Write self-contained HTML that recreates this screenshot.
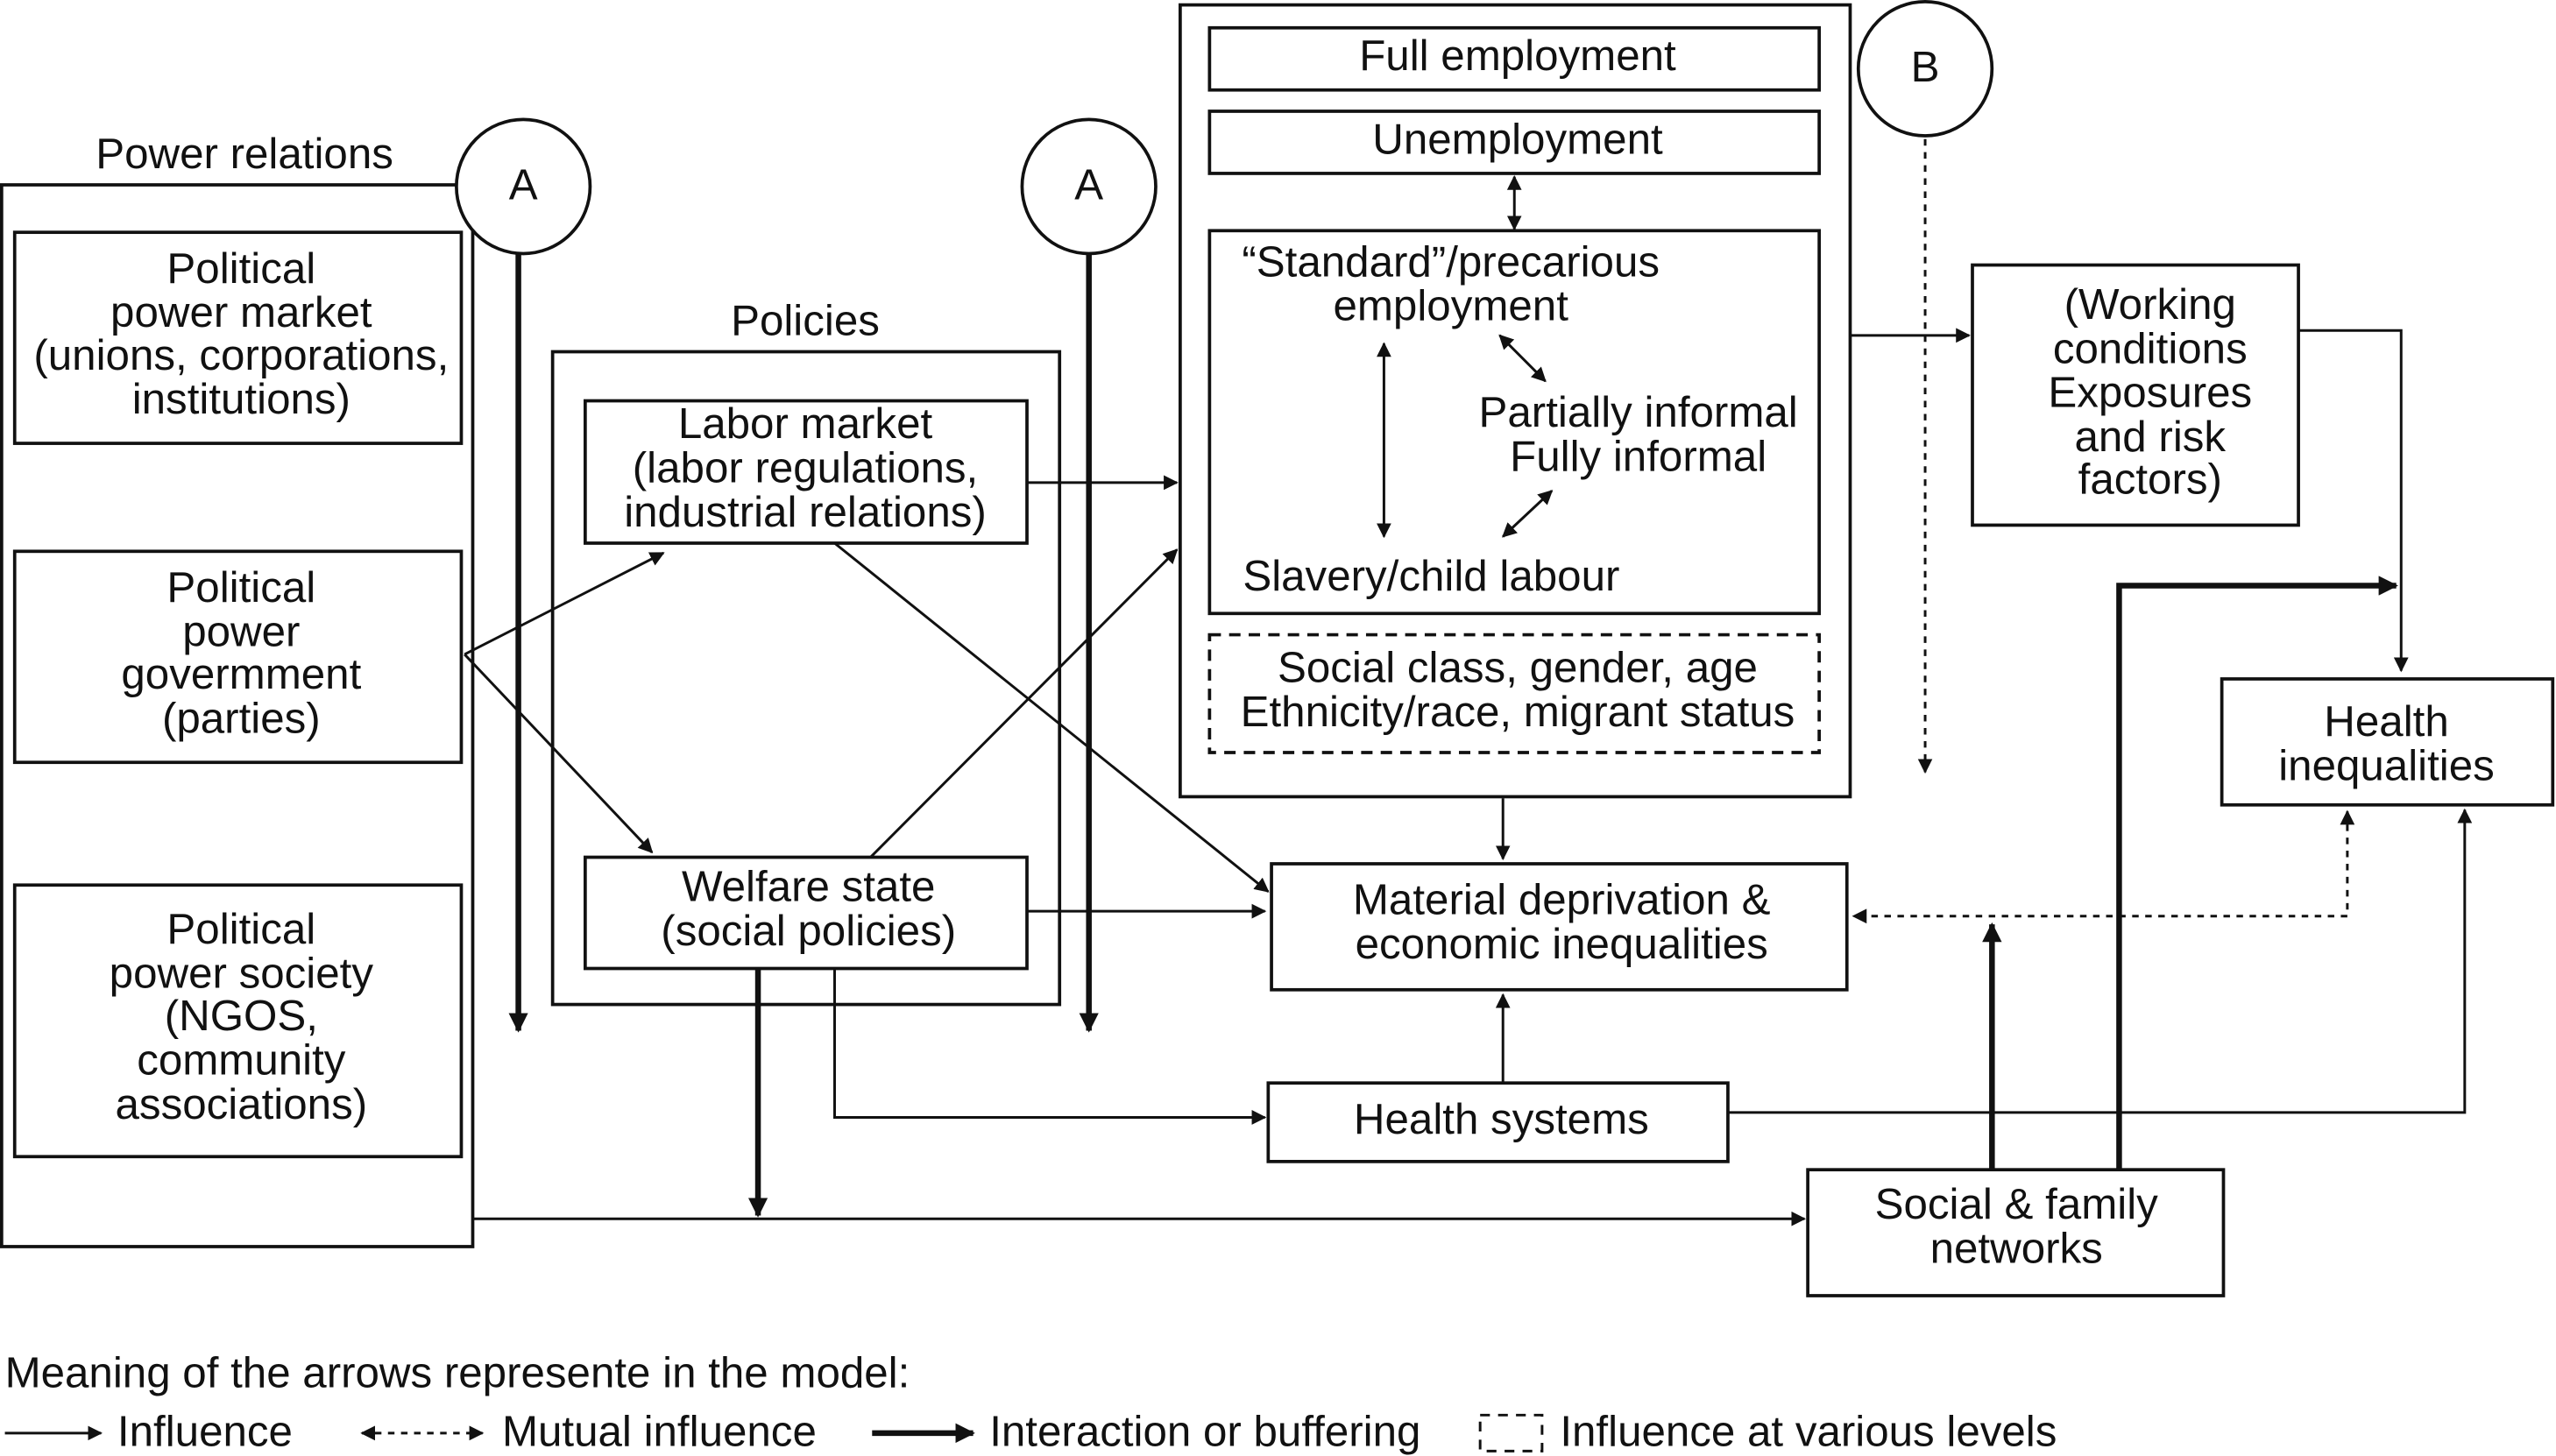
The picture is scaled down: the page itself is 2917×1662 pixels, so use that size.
<!DOCTYPE html>
<html><head><meta charset="utf-8"><style>
html,body{margin:0;padding:0;background:#fff;}
svg{display:block;}
text{font-family:"Liberation Sans",Arial,sans-serif;font-size:26.5px;fill:#111;}
</style></head><body>
<svg width="2917" height="1662" viewBox="0 0 1568 890" preserveAspectRatio="none" xmlns="http://www.w3.org/2000/svg">
<defs>
<marker id="a" viewBox="0 0 10 10" refX="9" refY="5" markerWidth="9" markerHeight="9" markerUnits="userSpaceOnUse" orient="auto-start-reverse"><path d="M0,0 L10,5 L0,10 z" fill="#111"/></marker>
<marker id="b" viewBox="0 0 10 10" refX="9" refY="5" markerWidth="12" markerHeight="12" markerUnits="userSpaceOnUse" orient="auto-start-reverse"><path d="M0,0 L10,5 L0,10 z" fill="#111"/></marker>
</defs>
<g fill="none" stroke="#111" stroke-width="2">
<rect x="1" y="113" width="289" height="649"/>
<rect x="9" y="142" width="274" height="129"/>
<rect x="9" y="337" width="274" height="129"/>
<rect x="9" y="541" width="274" height="166"/>
<rect x="339" y="215" width="311" height="399"/>
<rect x="359" y="245" width="271" height="87"/>
<rect x="359" y="524" width="271" height="68"/>
<rect x="724" y="3" width="411" height="484"/>
<rect x="742" y="17" width="374" height="38"/>
<rect x="742" y="68" width="374" height="38"/>
<rect x="742" y="141" width="374" height="234"/>
<rect x="742" y="388" width="374" height="72" stroke-dasharray="7,5"/>
<rect x="1210" y="162" width="200" height="159"/>
<rect x="1363" y="415" width="203" height="77"/>
<rect x="780" y="528" width="353" height="77"/>
<rect x="778" y="662" width="282" height="48"/>
<rect x="1109" y="715" width="255" height="77"/>
<circle cx="321" cy="114" r="41" fill="#fff"/>
<circle cx="668" cy="114" r="41" fill="#fff"/>
<circle cx="1181" cy="42" r="41" fill="#fff"/>
</g>
<g fill="none" stroke="#111" stroke-width="1.6">
<line x1="929" y1="108" x2="929" y2="140" marker-start="url(#a)" marker-end="url(#a)"/>
<line x1="849" y1="210" x2="849" y2="328" marker-start="url(#a)" marker-end="url(#a)"/>
<line x1="920" y1="205" x2="948" y2="233" marker-start="url(#a)" marker-end="url(#a)"/>
<line x1="922" y1="328" x2="952" y2="300" marker-start="url(#a)" marker-end="url(#a)"/>
<line x1="1181" y1="85" x2="1181" y2="472" stroke-dasharray="4,4" marker-end="url(#a)"/>
<line x1="1135" y1="205" x2="1208" y2="205" marker-end="url(#a)"/>
<polyline points="1410,202 1473,202 1473,410" marker-end="url(#a)"/>
<line x1="922" y1="488" x2="922" y2="525" marker-end="url(#a)"/>
<line x1="922" y1="662" x2="922" y2="608" marker-end="url(#a)"/>
<polyline points="1060,680 1512,680 1512,495" marker-end="url(#a)"/>
<polyline points="1440,496 1440,560 1137,560" stroke-dasharray="4,4" marker-start="url(#a)" marker-end="url(#a)"/>
<line x1="630" y1="295" x2="722" y2="295" marker-end="url(#a)"/>
<line x1="534" y1="524" x2="722" y2="336" marker-end="url(#a)"/>
<line x1="512" y1="332" x2="778" y2="545" marker-end="url(#a)"/>
<line x1="630" y1="557" x2="776" y2="557" marker-end="url(#a)"/>
<line x1="285" y1="400" x2="407" y2="338" marker-end="url(#a)"/>
<line x1="285" y1="400" x2="400" y2="521" marker-end="url(#a)"/>
<polyline points="512,592 512,683 776,683" marker-end="url(#a)"/>
<line x1="290" y1="745" x2="1107" y2="745" marker-end="url(#a)"/>
<line x1="3" y1="876" x2="62" y2="876" marker-end="url(#a)"/>
<line x1="222" y1="876" x2="296" y2="876" stroke-dasharray="4,4" marker-start="url(#a)" marker-end="url(#a)"/>
<rect x="908" y="865" width="38" height="22" stroke-dasharray="6,5"/>
</g>
<g fill="none" stroke="#111" stroke-width="3.5">
<line x1="318" y1="155" x2="318" y2="630" marker-end="url(#b)"/>
<line x1="668" y1="155" x2="668" y2="630" marker-end="url(#b)"/>
<line x1="465" y1="592" x2="465" y2="743" marker-end="url(#b)"/>
<line x1="1222" y1="715" x2="1222" y2="565" marker-end="url(#b)"/>
<polyline points="1300,715 1300,358 1470,358" marker-end="url(#b)"/>
<line x1="535" y1="876" x2="597" y2="876" marker-end="url(#b)"/>
</g>
<g text-anchor="middle" dominant-baseline="central">
<text x="150" y="94">Power relations</text>
<text x="148" y="164">Political</text><text x="148" y="191">power market</text><text x="148" y="217">(unions, corporations,</text><text x="148" y="244">institutions)</text>
<text x="148" y="359">Political</text><text x="148" y="386">power</text><text x="148" y="412">govermment</text><text x="148" y="439">(parties)</text>
<text x="148" y="568">Political</text><text x="148" y="595">power society</text><text x="148" y="621">(NGOS,</text><text x="148" y="648">community</text><text x="148" y="675">associations)</text>
<text x="321" y="113">A</text><text x="668" y="113">A</text><text x="1181" y="41">B</text>
<text x="494" y="196">Policies</text>
<text x="494" y="259">Labor market</text><text x="494" y="286">(labor regulations,</text><text x="494" y="313">industrial relations)</text>
<text x="496" y="542">Welfare state</text><text x="496" y="569">(social policies)</text>
<text x="931" y="34">Full employment</text>
<text x="931" y="85">Unemployment</text>
<text x="890" y="160">“Standard”/precarious</text><text x="890" y="187">employment</text>
<text x="1005" y="252">Partially informal</text><text x="1005" y="279">Fully informal</text>
<text x="878" y="352">Slavery/child labour</text>
<text x="931" y="408">Social class, gender, age</text><text x="931" y="435">Ethnicity/race, migrant status</text>
<text x="1319" y="186">(Working</text><text x="1319" y="213">conditions</text><text x="1319" y="240">Exposures</text><text x="1319" y="267">and risk</text><text x="1319" y="293">factors)</text>
<text x="1464" y="441">Health</text><text x="1464" y="468">inequalities</text>
<text x="958" y="550">Material deprivation &amp;</text><text x="958" y="577">economic inequalities</text>
<text x="921" y="684">Health systems</text>
<text x="1237" y="736">Social &amp; family</text><text x="1237" y="763">networks</text>
</g>
<g dominant-baseline="central">
<text x="3" y="839">Meaning of the arrows represente in the model:</text>
<text x="72" y="875">Influence</text>
<text x="308" y="875">Mutual influence</text>
<text x="607" y="875">Interaction or buffering</text>
<text x="957" y="875">Influence at various levels</text>
</g>
</svg>
</body></html>
